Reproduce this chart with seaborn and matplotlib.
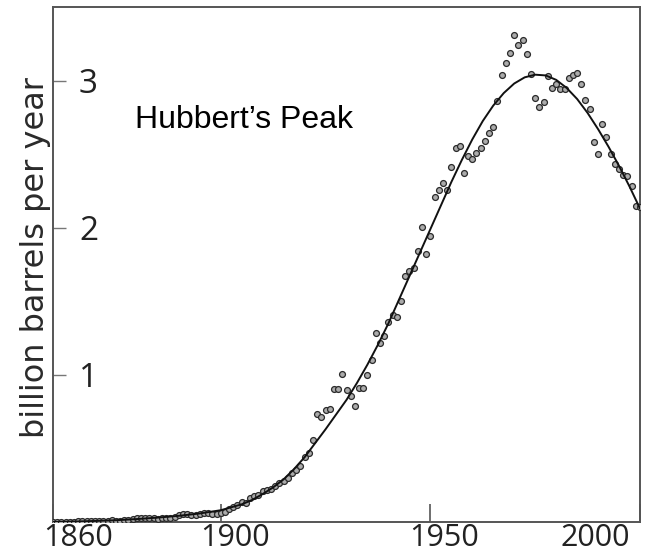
import numpy as np
import pandas as pd
import matplotlib
matplotlib.use("Agg")
import matplotlib.pyplot as plt
import seaborn as sns
from matplotlib.transforms import ScaledTranslation

# ---- data ----
years = list(range(1860, 2001))
production = [
    0.001, 0.002, 0.003, 0.003, 0.002, 0.003, 0.004, 0.004, 0.004, 0.004,   # 1860-1869
    0.005, 0.005, 0.006, 0.010, 0.011, 0.009, 0.009, 0.013, 0.015, 0.020,   # 1870-1879
    0.026, 0.028, 0.030, 0.024, 0.024, 0.022, 0.028, 0.028, 0.028, 0.035,   # 1880-1889
    0.046, 0.054, 0.051, 0.048, 0.049, 0.053, 0.061, 0.061, 0.055, 0.057,   # 1890-1899
    0.064, 0.069, 0.089, 0.100, 0.117, 0.135, 0.126, 0.166, 0.179, 0.183,   # 1900-1909
    0.210, 0.220, 0.223, 0.248, 0.266, 0.281, 0.301, 0.335, 0.356, 0.378,   # 1910-1919
    0.443, 0.472, 0.556, 0.735, 0.714, 0.764, 0.770, 0.906, 0.906, 1.008,   # 1920-1929
    0.900, 0.854, 0.786, 0.910, 0.910, 0.997, 1.100, 1.283, 1.216, 1.263,   # 1930-1939
    1.358, 1.410, 1.390, 1.505, 1.675, 1.708, 1.724, 1.844, 2.007, 1.820,   # 1940-1949
    1.946, 2.210, 2.256, 2.307, 2.256, 2.416, 2.544, 2.556, 2.373, 2.488,   # 1950-1959
    2.466, 2.506, 2.544, 2.590, 2.642, 2.685, 2.861, 3.035, 3.117, 3.190,   # 1960-1969
    3.313, 3.245, 3.274, 3.178, 3.042, 2.883, 2.820, 2.856, 3.030, 2.951,   # 1970-1979
    2.974, 2.940, 2.945, 3.015, 3.037, 3.049, 2.974, 2.866, 2.810, 2.585,   # 1980-1989
    2.504, 2.707, 2.617, 2.500, 2.432, 2.398, 2.359, 2.353, 2.285, 2.149,   # 1990-1999
    2.138,                                                                  # 2000
]

curve_years = [1860, 1865, 1870, 1875, 1880, 1885, 1890, 1895,
               1900, 1902.5, 1905, 1907.5, 1910, 1912.5, 1915, 1917.5,
               1920, 1922.5, 1925, 1927.5, 1930, 1932.5, 1935, 1937.5,
               1940, 1942.5, 1945, 1947.5, 1950, 1952.5, 1955, 1957.5,
               1960, 1962.5, 1965, 1967.5, 1970, 1972.5, 1975, 1977.5,
               1980, 1982.5, 1985, 1987.5, 1990, 1992.5, 1995, 1997.5, 2000]
curve_values = [0.000, 0.003, 0.007, 0.012, 0.020, 0.030, 0.042, 0.058,
                0.080, 0.100, 0.120, 0.150, 0.190, 0.235, 0.290, 0.360,
                0.440, 0.535, 0.630, 0.730, 0.830, 0.945, 1.070, 1.205,
                1.350, 1.510, 1.670, 1.830, 1.990, 2.150, 2.310, 2.460,
                2.600, 2.725, 2.830, 2.915, 2.980, 3.022, 3.040, 3.035,
                3.005, 2.950, 2.875, 2.780, 2.670, 2.550, 2.420, 2.280, 2.130]

x_ticks = [1860, 1900, 1950, 2000]
x_tick_labels = ["1860", "1900", "1950", "2000"]
y_ticks = [1, 2, 3]
y_tick_labels = ["1", "2", "3"]

# ---- style ----
sns.set_style("white")
plt.rcParams['font.family'] = ['Open Sans', 'DejaVu Sans']

W, H = 646, 553
fig = plt.figure(figsize=(W / 100, H / 100), dpi=100)
ax = fig.add_axes([53 / W, (H - 522) / H, 587 / W, 515 / H])

df = pd.DataFrame({"year": years, "production": production})
cf = pd.DataFrame({"year": curve_years, "fit": curve_values})

sns.scatterplot(data=df, x="year", y="production", ax=ax, s=18,
                color="#ababab", edgecolor="#2a2a2a", linewidth=0.9,
                zorder=3, legend=False)
sns.lineplot(data=cf, x="year", y="fit", ax=ax, color="#111111",
             linewidth=1.4, zorder=4, legend=False)

ax.set_xlim(1860, 2000)
ax.set_ylim(0, 3.5)

for sp in ax.spines.values():
    sp.set_visible(True)
    sp.set_color("#555555")
    sp.set_linewidth(1.4)

ax.set_xticks(x_ticks)
ax.set_xticklabels(x_tick_labels)
ax.set_yticks(y_ticks)
ax.set_yticklabels(y_tick_labels, ha="left")

ax.tick_params(axis="x", direction="in", length=13, width=1.2, color="#555555",
               labelsize=22, pad=0.5, labelcolor="#222222",
               bottom=True, top=False)
ax.tick_params(axis="y", direction="in", length=9.5, width=1.0, color="#777777",
               labelsize=24, pad=-18.7, labelcolor="#222222",
               left=True, right=False)

offsets_px = [25, 14, 14, -45]
for lab, dx in zip(ax.get_xticklabels(), offsets_px):
    lab.set_transform(lab.get_transform() +
                      ScaledTranslation(dx / 100, 0, fig.dpi_scale_trans))

ax.set_xlabel("")
ax.set_ylabel("billion barrels per year", fontsize=23, color="#2a2a2a",
              family=["DejaVu Sans"])
ax.yaxis.set_label_coords(-0.004, 0.513)

ax.text(0.14, 0.765, "Hubbert\u2019s Peak", transform=ax.transAxes,
        fontsize=23, family=["Liberation Sans", "DejaVu Sans"],
        color="black", va="baseline", ha="left")

fig.savefig("out.png", dpi=100)
